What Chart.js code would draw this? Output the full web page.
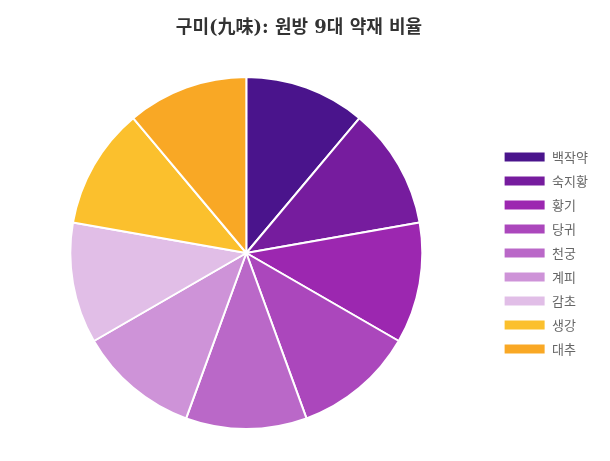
<!DOCTYPE html>
<html>
<head>
<meta charset="utf-8">
<script src="https://cdn.jsdelivr.net/npm/chart.js@4"></script>
<style>
  html,body{margin:0;padding:0;background:#fff;}
  #wrap{width:610px;height:461px;}
</style>
</head>
<body>
<div id="wrap"><canvas id="c"></canvas></div>
<script>
var herbs = ["백작약","숙지황","황기","당귀","천궁","계피","감초","생강","대추"];
var shares = [1,1,1,1,1,1,1,1,1];
var colors = ["#4a148c","#761c9e","#9c27b0","#ab47bc","#ba68c8","#ce93d8","#e1bee7","#fbc02d","#f9a825"];

var ctx = document.getElementById("c").getContext("2d");
new Chart(ctx,{
  type:"pie",
  data:{ labels:herbs, datasets:[{ data:shares, backgroundColor:colors, borderColor:"#fff", borderWidth:2 }] },
  options:{
    responsive:true, maintainAspectRatio:false, animation:false,
    layout:{ padding:{ top:0, bottom:31, left:0, right:12 } },
    plugins:{
      title:{ display:true, text:"구미(九味): 원방 9대 약재 비율", color:"#333",
        font:{ family:"'DejaVu Serif', 'Noto Sans CJK KR', serif", size:18, weight:"bold" }, padding:{ top:18, bottom:36.4 } },
      legend:{ position:"right", fullSize:false,
        labels:{ boxWidth:42, boxHeight:11, padding:11, color:"#666",
          font:{ family:"'Noto Sans CJK KR'", size:13 } } },
      tooltip:{ enabled:false }
    }
  }
});
</script>
</body>
</html>
